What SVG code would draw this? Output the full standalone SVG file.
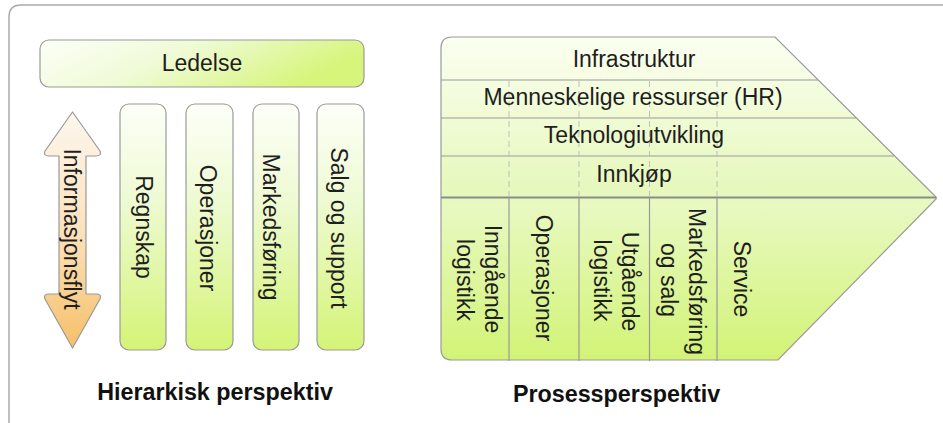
<svg xmlns="http://www.w3.org/2000/svg" width="943" height="423" viewBox="0 0 943 423">
<defs>
<linearGradient id="gH" x1="0" y1="0" x2="1" y2="0.3">
<stop offset="0" stop-color="#fdfff8"/><stop offset="0.45" stop-color="#f0fbd8"/><stop offset="1" stop-color="#d6f57a"/>
</linearGradient>
<linearGradient id="gV" x1="0" y1="0" x2="0" y2="1">
<stop offset="0" stop-color="#fdfff8"/><stop offset="0.4" stop-color="#eefad2"/><stop offset="1" stop-color="#d4f476"/>
</linearGradient>
<linearGradient id="gA" x1="0" y1="0" x2="0" y2="1">
<stop offset="0" stop-color="#fdf7ee"/><stop offset="0.5" stop-color="#fbe2bd"/><stop offset="1" stop-color="#f6c068"/>
</linearGradient>
<linearGradient id="gC" gradientUnits="userSpaceOnUse" x1="0" y1="37" x2="0" y2="360">
<stop offset="0" stop-color="#fbfff0"/><stop offset="0.48" stop-color="#e6f8bc"/><stop offset="0.52" stop-color="#e8f9c2"/><stop offset="1" stop-color="#d2f376"/>
</linearGradient>
<style>
.box{stroke:#9a9a9a;stroke-width:1.2}
.t{font-family:"Liberation Sans",Arial,sans-serif;font-size:23px;fill:#1e1e1e;text-anchor:middle}
.b{font-family:"Liberation Sans",Arial,sans-serif;font-size:23.3px;font-weight:bold;fill:#111;text-anchor:middle}
.row{stroke:#999;stroke-width:1.2;fill:none}
.dash{stroke:#bdbdbd;stroke-width:1;stroke-dasharray:6 4;fill:none}
.col{stroke:#999;stroke-width:1.2;fill:none}
</style>
</defs>
<rect width="943" height="423" fill="#fff"/>
<path d="M9,423 V17 Q9,5 21,5 H943" fill="none" stroke="#aaa" stroke-width="1.5"/>

<g id="ledelse">
<rect class="box" x="40" y="40" width="324" height="47" rx="9" fill="url(#gH)"/>
<text class="t" x="202" y="71">Ledelse</text>
</g>

<g id="informasjonsflyt">
<path class="box" d="M72.5,112 L100,151 Q102,156 96,156 L86,156 L86,294 L96,294 Q102,294 100,299 L72.5,348 L45,299 Q43,294 49,294 L59,294 L59,156 L49,156 Q43,156 45,151 Z" fill="url(#gA)" stroke-linejoin="round"/>
<text class="t" transform="translate(63.5,229) rotate(90)">Informasjonsflyt</text>
</g>

<g id="regnskap">
<rect class="box" x="120" y="104" width="46" height="246" rx="9" fill="url(#gV)"/>
<text class="t" transform="translate(136,227) rotate(90)">Regnskap</text>
</g>
<g id="operasjoner-h">
<rect class="box" x="186" y="104" width="47" height="246" rx="9" fill="url(#gV)"/>
<text class="t" transform="translate(200,228) rotate(90)">Operasjoner</text>
</g>
<g id="markedsforing-h">
<rect class="box" x="253" y="104" width="46" height="246" rx="9" fill="url(#gV)"/>
<text class="t" transform="translate(263,227) rotate(90)">Markedsføring</text>
</g>
<g id="salg-support">
<rect class="box" x="317" y="104" width="47" height="246" rx="9" fill="url(#gV)"/>
<text class="t" transform="translate(331,228) rotate(90)">Salg og support</text>
</g>

<g id="hierarkisk-label">
<text class="b" x="215" y="400">Hierarkisk perspektiv</text>
</g>

<g id="verdikjede">
<path class="box" d="M452,37 H775 L935,196 Q938,198 935,200 L778,360 H452 Q441,360 441,349 V48 Q441,37 452,37 Z" fill="url(#gC)"/>
<line class="row" x1="441" y1="80" x2="818" y2="80"/>
<line class="row" x1="441" y1="118" x2="856" y2="118"/>
<line class="row" x1="441" y1="156" x2="894" y2="156"/>
<line x1="441" y1="197.5" x2="936" y2="197.5" stroke="#8c8c8c" stroke-width="2"/>
<line class="dash" x1="509" y1="81" x2="509" y2="197"/>
<line class="dash" x1="579" y1="81" x2="579" y2="197"/>
<line class="dash" x1="649.5" y1="81" x2="649.5" y2="197"/>
<line class="dash" x1="717" y1="81" x2="717" y2="197"/>
<line class="col" x1="509" y1="198" x2="509" y2="361"/>
<line class="col" x1="579" y1="198" x2="579" y2="361"/>
<line class="col" x1="649.5" y1="198" x2="649.5" y2="361"/>
<line class="col" x1="717" y1="198" x2="717" y2="361"/>
</g>

<g id="infrastruktur"><text class="t" x="634" y="67">Infrastruktur</text></g>
<g id="hr"><text class="t" x="633" y="105">Menneskelige ressurser (HR)</text></g>
<g id="teknologi"><text class="t" x="634" y="143">Teknologiutvikling</text></g>
<g id="innkjop"><text class="t" x="634" y="182">Innkjøp</text></g>

<g id="inngaende">
<text class="t" transform="translate(485,279) rotate(90)">Inngående</text>
<text class="t" transform="translate(457,280) rotate(90)">logistikk</text>
</g>
<g id="operasjoner-p">
<text class="t" transform="translate(536,278) rotate(90)">Operasjoner</text>
</g>
<g id="utgaende">
<text class="t" transform="translate(621.5,281.5) rotate(90)">Utgående</text>
<text class="t" transform="translate(594,280.5) rotate(90)">logistikk</text>
</g>
<g id="markedsforing-p">
<text class="t" transform="translate(689,281.5) rotate(90)">Markedsføring</text>
<text class="t" transform="translate(661,280) rotate(90)">og salg</text>
</g>
<g id="service">
<text class="t" transform="translate(734,279) rotate(90)">Service</text>
</g>

<g id="prosess-label">
<text class="b" x="616.5" y="401.5">Prosessperspektiv</text>
</g>
<g id="connectors"/>
</svg>
